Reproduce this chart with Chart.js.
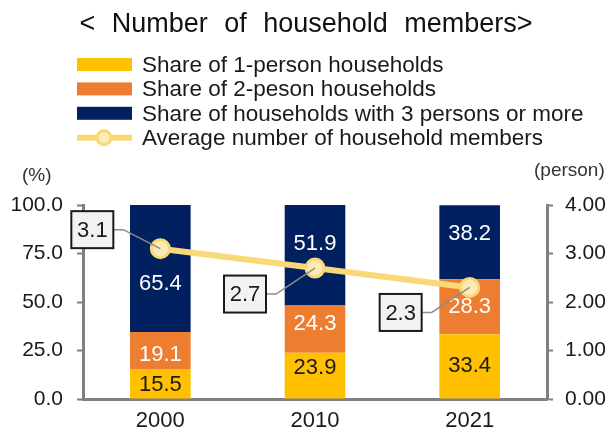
<!DOCTYPE html>
<html>
<head>
<meta charset="utf-8">
<script src="https://cdn.jsdelivr.net/npm/chart.js@4/dist/chart.umd.min.js"></script>
<style>
  body { margin: 0; background: #fff; }
</style>
</head>
<body>
<canvas id="members" width="611" height="430"></canvas>
<script>
// household composition by census year
const years = ['2000', '2010', '2021'];
const onePerson = [15.5, 23.9, 33.4];
const twoPerson = [19.1, 24.3, 28.3];
const threePlus = [65.4, 51.9, 38.2];
const avgMembers = [3.1, 2.7, 2.3];

const seriesNames = [
  'Share of 1-person households',
  'Share of 2-peson households',
  'Share of households with 3 persons or more',
  'Average number of household members'
];

const FONT = '"Liberation Sans", Arial, sans-serif';
const AXIS_GRAY = '#808080';
const barColors = ['#FFC000', '#ED7D31', '#002060'];
const barLabelColors = ['#1a1a1a', '#ffffff', '#ffffff'];
const lineColor = '#F9D877';

// vertical nudges (px) for segment labels, so they clear the line
const labelNudge = [[1, -8, 0], [5, -5, 0], [15, -11, -8]];
// where each callout box sits relative to its point (px)
const calloutOffset = [[-68, -19], [-70, 26], [-69, 25]];

const decorations = {
  id: 'decorations',
  afterDatasetsDraw(chart) {
    const ctx = chart.ctx;
    ctx.save();
    ctx.textAlign = 'center';
    ctx.textBaseline = 'middle';
    ctx.font = '22px ' + FONT;

    // value labels inside each stacked segment
    for (let d = 0; d < 3; d++) {
      const meta = chart.getDatasetMeta(d);
      meta.data.forEach((bar, i) => {
        ctx.fillStyle = barLabelColors[d];
        const y = (bar.y + bar.base) / 2 + labelNudge[d][i];
        ctx.fillText(chart.data.datasets[d].data[i].toFixed(1), bar.x, y);
      });
    }

    // callout boxes for the average line
    const lineMeta = chart.getDatasetMeta(3);
    lineMeta.data.forEach((pt, i) => {
      const cx = pt.x + calloutOffset[i][0];
      const cy = pt.y + calloutOffset[i][1];
      const w = 42, h = 37;
      ctx.strokeStyle = '#8c8c8c';
      ctx.lineWidth = 1.5;
      ctx.beginPath();
      ctx.moveTo(cx + w / 2, cy);
      ctx.lineTo(cx + w / 2 + 10, cy);
      ctx.lineTo(pt.x, pt.y);
      ctx.stroke();

      ctx.fillStyle = '#f2f2f2';
      ctx.fillRect(cx - w / 2, cy - h / 2, w, h);
      ctx.strokeStyle = '#1a1a1a';
      ctx.lineWidth = 2;
      ctx.strokeRect(cx - w / 2, cy - h / 2, w, h);
      ctx.fillStyle = '#1a1a1a';
      ctx.fillText(avgMembers[i].toFixed(1), cx, cy + 1);
    });
    ctx.restore();
  },
  afterDraw(chart) {
    const ctx = chart.ctx;
    ctx.save();
    ctx.fillStyle = '#111';
    ctx.textBaseline = 'alphabetic';

    // heading
    ctx.font = '27px ' + FONT;
    ctx.textAlign = 'center';
    if ('wordSpacing' in ctx) ctx.wordSpacing = '9px';
    ctx.fillText('< Number of household members>', 306, 32);
    if ('wordSpacing' in ctx) ctx.wordSpacing = '0px';

    // legend
    ctx.textAlign = 'left';
    ctx.font = '22.5px ' + FONT;
    for (let i = 0; i < 4; i++) {
      const base = 72 + 24.4 * i;
      const mid = base - 7.5;
      if (i < 3) {
        ctx.fillStyle = barColors[i];
        ctx.fillRect(77, mid - 6.5, 55, 13);
      } else {
        ctx.strokeStyle = lineColor;
        ctx.lineWidth = 6;
        ctx.beginPath();
        ctx.moveTo(77, mid);
        ctx.lineTo(132, mid);
        ctx.stroke();
        ctx.fillStyle = '#FCEBB5';
        ctx.lineWidth = 3;
        ctx.beginPath();
        ctx.arc(104, mid, 7, 0, Math.PI * 2);
        ctx.fill();
        ctx.stroke();
      }
      ctx.fillStyle = '#1a1a1a';
      ctx.fillText(seriesNames[i], 142, base);
    }

    // axis units
    ctx.font = '19px ' + FONT;
    ctx.fillStyle = '#333';
    ctx.fillText('(%)', 22, 181);
    ctx.fillText('(person)', 534, 176);
    ctx.restore();
  }
};

const tickFont = { family: FONT, size: 21 };

new Chart(document.getElementById('members'), {
  type: 'bar',
  data: {
    labels: years,
    datasets: [
      { label: seriesNames[0], data: onePerson, backgroundColor: barColors[0], order: 2, yAxisID: 'y' },
      { label: seriesNames[1], data: twoPerson, backgroundColor: barColors[1], order: 2, yAxisID: 'y' },
      { label: seriesNames[2], data: threePlus, backgroundColor: barColors[2], order: 2, yAxisID: 'y' },
      {
        type: 'line',
        label: seriesNames[3],
        data: avgMembers,
        yAxisID: 'y1',
        order: 1,
        borderColor: lineColor,
        borderWidth: 6,
        pointRadius: 9,
        pointBorderWidth: 3,
        pointBackgroundColor: '#FCEBB5',
        pointBorderColor: lineColor
      }
    ]
  },
  options: {
    responsive: false,
    animation: false,
    barPercentage: 0.49,
    categoryPercentage: 0.8,
    layout: { padding: { top: 205, left: 0, right: 0, bottom: 0 } },
    plugins: {
      legend: { display: false },
      tooltip: { enabled: false }
    },
    scales: {
      x: {
        stacked: true,
        grid: { display: false },
        border: { color: AXIS_GRAY, width: 3 },
        ticks: { font: { family: FONT, size: 22 }, color: '#1a1a1a', padding: 1 },
        afterFit: s => { s.height = 31; }
      },
      y: {
        stacked: true,
        position: 'left',
        min: 0,
        max: 100,
        ticks: {
          stepSize: 25,
          font: tickFont,
          color: '#1a1a1a',
          padding: 14,
          callback: v => v.toFixed(1)
        },
        grid: { drawOnChartArea: false, tickLength: 6, tickColor: AXIS_GRAY, tickWidth: 2 },
        border: { color: AXIS_GRAY, width: 3 },
        afterFit: s => { s.width = 83; }
      },
      y1: {
        position: 'right',
        min: 0,
        max: 4,
        ticks: {
          stepSize: 1,
          font: tickFont,
          color: '#1a1a1a',
          padding: 12,
          callback: v => v.toFixed(2)
        },
        grid: { drawOnChartArea: false, tickLength: 6, tickColor: AXIS_GRAY, tickWidth: 2 },
        border: { color: AXIS_GRAY, width: 3 },
        afterFit: s => { s.width = 64; }
      }
    }
  },
  plugins: [decorations]
});
</script>
</body>
</html>
